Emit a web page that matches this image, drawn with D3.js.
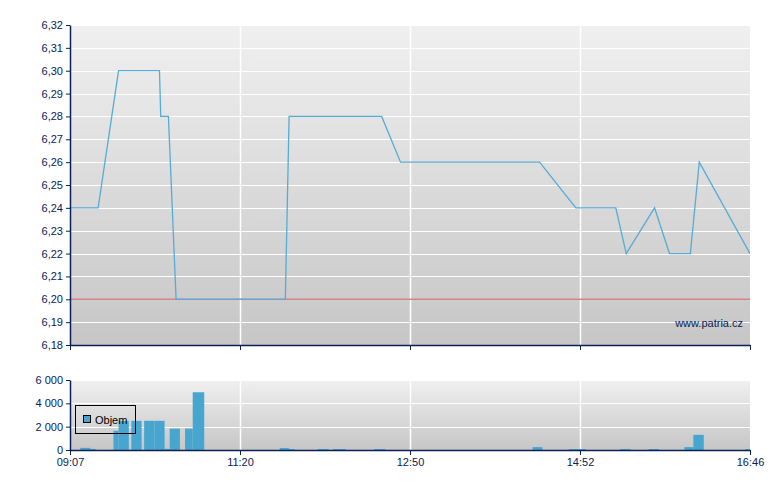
<!DOCTYPE html>
<html><head><meta charset="utf-8">
<script src="https://cdn.jsdelivr.net/npm/d3@7"></script>
<style>
body{margin:0;background:#fff}
svg{display:block}
text{font-family:"Liberation Sans",Arial,sans-serif}
</style>
</head><body>
<svg id="c" width="780" height="490"></svg>
<script>
// ---- data ----
const xTickLabels = ["09:07","11:20","12:50","14:52","16:46"];
const priceTicks = [6.18,6.19,6.20,6.21,6.22,6.23,6.24,6.25,6.26,6.27,6.28,6.29,6.30,6.31,6.32];
const volTicks = [0,2000,4000,6000];
const refPrice = 6.20;
const lineTimes = ["09:07","09:29","09:45","10:17","10:18","10:24","10:30","11:44","11:46","12:35","12:45","14:23","14:49","15:16","15:23","15:42","15:52","16:06","16:12","16:46"];
const lineValues = [6.24,6.24,6.30,6.30,6.28,6.28,6.20,6.20,6.28,6.28,6.26,6.26,6.24,6.24,6.22,6.24,6.22,6.22,6.26,6.22];
const volStart = ["09:15","09:23","09:41","09:45","09:55","10:05","10:13","10:21","10:25","10:37","10:43","11:41","11:46","12:01","12:09","12:31","14:18","14:44","15:19","15:38","16:02","16:08","16:43"];
const volEnd   = ["09:23","09:27","09:45","09:53","10:03","10:13","10:21","10:25","10:33","10:43","10:52","11:46","11:49","12:07","12:16","12:37","14:25","14:56","15:26","15:45","16:08","16:15","16:46"];
const volValues = [180,90,1650,2500,2500,2500,2500,100,1830,1830,4950,170,80,80,80,80,250,80,80,80,250,1300,80];
const legendLabel = "Objem";
const watermark = "www.patria.cz";

// ---- layout ----
const parse = d3.timeParse("%H:%M");
const L = 70, R = 750;
const navy = "#0b2155";
const blue = "#47a6d0";
const svg = d3.select("#c");

const x = d3.scaleTime()
  .domain(xTickLabels.map(parse))
  .range(xTickLabels.map((d,i)=> L + (R-L)*i/(xTickLabels.length-1)));

const y = d3.scaleLinear().domain([6.18,6.32]).range([345,25]);
const yv = d3.scaleLinear().domain([0,6000]).range([450,380]);

const defs = svg.append("defs");
const g = defs.append("linearGradient").attr("id","bg").attr("x1",0).attr("y1",0).attr("x2",0).attr("y2",1);
g.append("stop").attr("offset","0%").attr("stop-color","#f0f0f0");
g.append("stop").attr("offset","100%").attr("stop-color","#c6c6c6");
defs.append("clipPath").attr("id","clipMain").append("rect")
  .attr("x",L).attr("y",y.range()[1]).attr("width",R-L).attr("height",y.range()[0]-y.range()[1]);

// ---- backgrounds ----
svg.append("rect").attr("x",L).attr("y",y.range()[1]).attr("width",R-L).attr("height",y.range()[0]-y.range()[1]).attr("fill","url(#bg)");
svg.append("rect").attr("x",L).attr("y",yv.range()[1]).attr("width",R-L).attr("height",yv.range()[0]-yv.range()[1]).attr("fill","url(#bg)");

const xInner = xTickLabels.slice(1,-1).map(parse);

// grid main
svg.append("g").selectAll("line").data(priceTicks.slice(1)).join("line")
  .attr("x1",L).attr("x2",R).attr("y1",d=>Math.round(y(d))+0.5).attr("y2",d=>Math.round(y(d))+0.5)
  .attr("stroke","#fff").attr("stroke-width",1);
svg.append("g").selectAll("line").data(xInner).join("line")
  .attr("x1",d=>Math.round(x(d))+0.5).attr("x2",d=>Math.round(x(d))+0.5).attr("y1",y.range()[1]).attr("y2",y.range()[0])
  .attr("stroke","#fff").attr("stroke-width",1.5);
// grid volume
svg.append("g").selectAll("line").data(volTicks.slice(1)).join("line")
  .attr("x1",L).attr("x2",R).attr("y1",d=>Math.round(yv(d))+0.5).attr("y2",d=>Math.round(yv(d))+0.5)
  .attr("stroke","#fff").attr("stroke-width",1);
svg.append("g").selectAll("line").data(xInner).join("line")
  .attr("x1",d=>Math.round(x(d))+0.5).attr("x2",d=>Math.round(x(d))+0.5).attr("y1",yv.range()[1]).attr("y2",yv.range()[0])
  .attr("stroke","#fff").attr("stroke-width",1.5);

// ---- reference line ----
svg.append("line").attr("x1",L).attr("x2",R).attr("y1",y(refPrice)).attr("y2",y(refPrice))
  .attr("stroke","#d98383").attr("stroke-width",1.6);

// ---- price line ----
const pts = lineTimes.map((t,i)=>[parse(t),lineValues[i]]);
svg.append("path").datum(pts)
  .attr("clip-path","url(#clipMain)")
  .attr("fill","none").attr("stroke","#55acd6").attr("stroke-width",1.3)
  .attr("d",d3.line().x(d=>x(d[0])).y(d=>y(d[1])));

// ---- volume bars ----
svg.append("g").selectAll("rect").data(volValues.map((v,i)=>({s:parse(volStart[i]),e:parse(volEnd[i]),v}))).join("rect")
  .attr("x",d=>x(d.s)).attr("width",d=>x(d.e)-x(d.s))
  .attr("y",d=>yv(d.v)).attr("height",d=>yv(0)-yv(d.v))
  .attr("fill",blue);

// ---- axes ----
function styleAxis(sel){
  sel.selectAll("path,line").attr("stroke",navy);
  sel.select(".domain").attr("stroke-width",1.5);
  sel.selectAll("text").attr("fill",navy).attr("font-size",11).attr("font-family",'"Liberation Sans",Arial,sans-serif');
}
const fmtPrice = d=>d3.format(".2f")(d).replace(".",",");
const fmtVol = d=>d3.format(",")(d).replace(/,/g," ");

svg.append("g").attr("transform",`translate(${L},0)`)
  .call(d3.axisLeft(y).tickValues(priceTicks).tickFormat(fmtPrice).tickSize(4).tickSizeOuter(0))
  .call(styleAxis);
svg.append("g").attr("transform",`translate(0,${y.range()[0]})`)
  .call(d3.axisBottom(x).tickValues(xTickLabels.map(parse)).tickFormat("").tickSize(5).tickSizeOuter(0))
  .call(styleAxis);

svg.append("g").attr("transform",`translate(${L},0)`)
  .call(d3.axisLeft(yv).tickValues(volTicks).tickFormat(fmtVol).tickSize(4).tickSizeOuter(0))
  .call(styleAxis);
svg.append("g").attr("transform",`translate(0,${yv.range()[0]})`)
  .call(d3.axisBottom(x).tickValues(xTickLabels.map(parse)).tickFormat(d3.timeFormat("%H:%M")).tickSize(5).tickSizeOuter(0))
  .call(styleAxis);

// ---- legend ----
const lg = svg.append("g");
lg.append("rect").attr("x",75.5).attr("y",405.5).attr("width",60).attr("height",28)
  .attr("fill","none").attr("stroke","#000").attr("stroke-width",1);
lg.append("rect").attr("x",83.5).attr("y",415.5).attr("width",7).attr("height",7)
  .attr("fill",blue).attr("stroke","#000").attr("stroke-width",1);
lg.append("text").attr("x",95).attr("y",424).attr("font-size",11).attr("fill","#000").text(legendLabel);

// ---- watermark ----
svg.append("text").attr("x",743).attr("y",327).attr("text-anchor","end")
  .attr("font-size",11).attr("fill",navy).text(watermark);
</script>
</body></html>
